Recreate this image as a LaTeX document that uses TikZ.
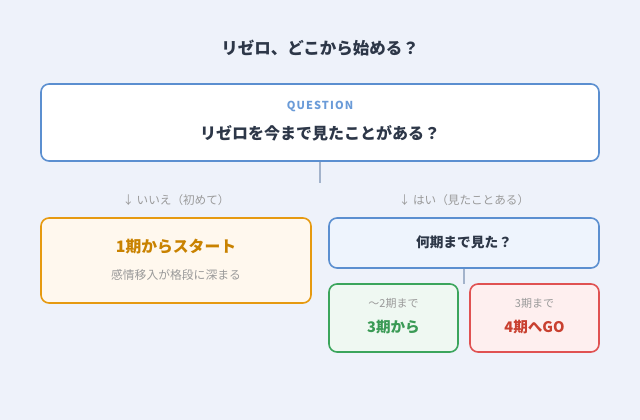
\documentclass[tikz,border=0pt]{standalone}
\usepackage{fontspec}
\setmainfont{Noto Sans CJK JP}
\usetikzlibrary{positioning}
\definecolor{bgc}{HTML}{EEF2FA}
\definecolor{titlec}{HTML}{2D3748}
\definecolor{bluec}{HTML}{5B8FD0}
\definecolor{qlabel}{HTML}{6A9BD8}
\definecolor{linec}{HTML}{A3B3CB}
\definecolor{grayc}{HTML}{9A9A9A}
\definecolor{orangeb}{HTML}{E69A10}
\definecolor{orangef}{HTML}{FFF8EE}
\definecolor{oranget}{HTML}{C98200}
\definecolor{bluef}{HTML}{EEF4FD}
\definecolor{greenb}{HTML}{3BA55C}
\definecolor{greenf}{HTML}{EFF8F2}
\definecolor{greent}{HTML}{3A9A55}
\definecolor{redb}{HTML}{E05252}
\definecolor{redf}{HTML}{FEEFEF}
\definecolor{redt}{HTML}{C94030}
\tikzset{
  box/.style={draw, line width=1.6pt, rounded corners=8pt, inner sep=0pt},
  conn/.style={draw=linec, line width=1.4pt},
  branch/.style={text=grayc, font=\fontsize{11.6}{14}\selectfont},
  small/.style={text=grayc, font=\fontsize{11}{13}\selectfont},
}
\begin{document}
\begin{tikzpicture}[x=1pt,y=-1pt]
\fill[bgc] (0,0) rectangle (640,420);
\useasboundingbox (0,0) rectangle (640,420);
\node[text=titlec, font=\bfseries\fontsize{16.5}{19}\selectfont] (title) at (320,48) {リゼロ、どこから始める？};
% question box
\node[box, draw=bluec, fill=white, minimum width=558pt, minimum height=77pt] (q) at (320,122.5) {};
\node[text=qlabel, font=\bfseries\fontsize{11}{13}\selectfont] (qlab) at (320,106.5) {\addfontfeatures{LetterSpace=10}QUESTION};
\node[text=titlec, font=\bfseries\fontsize{16}{19}\selectfont] (qtext) at (320,133) {リゼロを今まで見たことがある？};
\coordinate (qend) at (320,183);
\draw[conn] (q.south) -- (qend);
% branch labels
\node[branch] (no) at (176,200) {↓ いいえ（初めて）};
\node[branch] (yes) at (464,200) {↓ はい（見たことある）};
% left box
\node[box, draw=orangeb, fill=orangef, minimum width=270pt, minimum height=85pt] (left) at (176,260.5) {};
\node[text=oranget, font=\bfseries\fontsize{15.8}{18}\selectfont] (lt) at (176,247) {1期からスタート};
\node[text=grayc, font=\fontsize{11.8}{14}\selectfont] (ls) at (176,275) {感情移入が格段に深まる};
% right question box
\node[box, draw=bluec, fill=bluef, minimum width=270pt, minimum height=50pt] (rq) at (464,243) {};
\node[text=titlec, font=\bfseries\fontsize{13.7}{16}\selectfont] (rqt) at (464,242.5) {何期まで見た？};
\coordinate (rqend) at (464,284);
\draw[conn] (rq.south) -- (rqend);
% green box
\node[box, draw=greenb, fill=greenf, minimum width=129pt, minimum height=68pt] (g) at (393.5,318) {};
\node[small] (gs) at (393.5,303) {〜2期まで};
\node[text=greent, font=\bfseries\fontsize{14.6}{17}\selectfont] (gt) at (393.5,327.5) {3期から};
% red box
\node[box, draw=redb, fill=redf, minimum width=129pt, minimum height=68pt] (r) at (534.5,318) {};
\node[small] (rs) at (534.5,303) {3期まで};
\node[text=redt, font=\bfseries\fontsize{14.6}{17}\selectfont] (rt) at (534.5,327.5) {4期へGO};
\end{tikzpicture}
\end{document}
